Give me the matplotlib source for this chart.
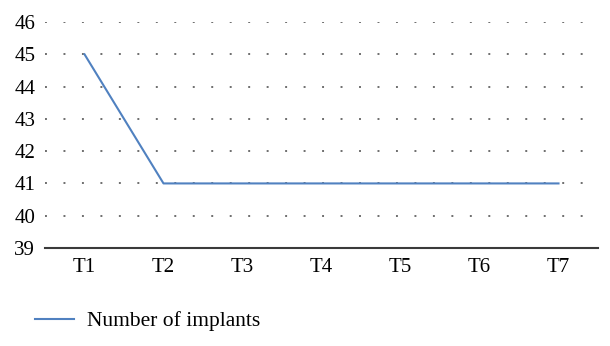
import matplotlib
matplotlib.use("Agg")
import matplotlib.pyplot as plt

categories = ["T1", "T2", "T3", "T4", "T5", "T6", "T7"]
implants = [45, 41, 41, 41, 41, 41, 41]
yticks = [39, 40, 41, 42, 43, 44, 45, 46]

plt.rcParams['font.family'] = ['Liberation Serif', 'DejaVu Serif']

fig = plt.figure(figsize=(6.1, 3.46), dpi=100)
ax = fig.add_axes([45 / 610, 1 - 248 / 346, 553 / 610, 226 / 346])

x = list(range(len(categories)))
line, = ax.plot(x, implants, color='#5081c0', lw=1.5, label='Number of implants')

ax.set_xlim(-0.5, len(categories) - 0.5)
ax.set_ylim(39, 46)
ax.set_yticks(yticks)
ax.set_xticks(x)
ax.set_xticklabels(categories)
ax.tick_params(axis='both', length=0, labelsize=15, colors='black')
ax.tick_params(axis='x', pad=7)
ax.tick_params(axis='y', pad=7)

for yv in yticks[1:]:
    ax.plot([-0.5, 6.35], [yv, yv], color='#6e6e6e', lw=1.4, ls=(0, (1, 8.5)), zorder=0)

for side in ['top', 'right', 'left']:
    ax.spines[side].set_visible(False)
ax.spines['bottom'].set_color('#3a3a3a')
ax.spines['bottom'].set_linewidth(1.5)

fig.legend(handles=[line], loc='center left', bbox_to_anchor=(16 / 610, 1 - 321 / 346),
           frameon=False, fontsize=15.5, handlelength=1.8, handletextpad=0.6)

fig.savefig("out.png", dpi=100)
